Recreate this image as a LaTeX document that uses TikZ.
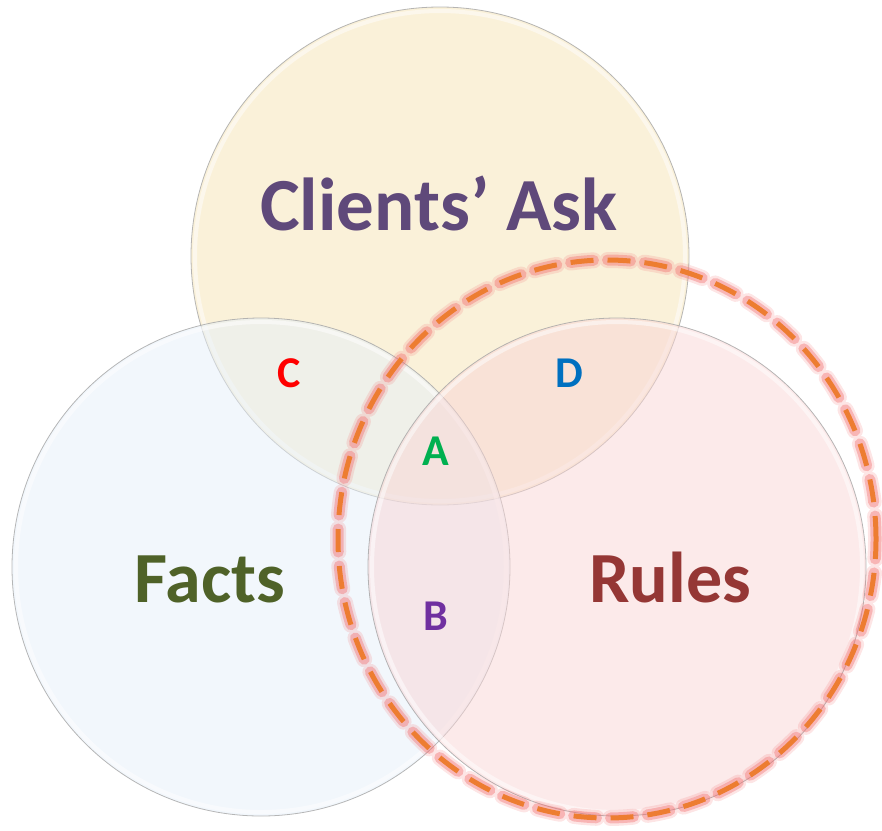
\documentclass[tikz,border=0pt]{standalone}
\usepackage{fontspec}
\setmainfont{Carlito}
\definecolor{topfill}{RGB}{245,227,180}
\definecolor{leftfill}{RGB}{229,239,249}
\definecolor{rightfill}{RGB}{249,213,213}
\definecolor{ringedge}{RGB}{165,165,165}
\definecolor{dashorange}{RGB}{237,125,49}
\definecolor{glowpink}{RGB}{242,110,110}
\definecolor{askpurple}{RGB}{95,73,122}
\definecolor{factsgreen}{RGB}{79,98,40}
\definecolor{rulesred}{RGB}{149,55,53}
\definecolor{labC}{RGB}{255,0,0}
\definecolor{labD}{RGB}{0,112,192}
\definecolor{labA}{RGB}{0,176,80}
\definecolor{labB}{RGB}{112,48,160}
\tikzset{
  setcircle/.style={circle, inner sep=0pt, minimum size=498pt, draw=ringedge, line width=0.8pt, fill opacity=0.5, draw opacity=0.8},
  innerglow/.style={circle, inner sep=0pt, minimum size=490pt, draw=white, line width=4pt, draw opacity=0.5},
  bigtext/.style={font=\bfseries\fontsize{72}{72}\selectfont, anchor=base, inner sep=0pt},
  smalltext/.style={font=\bfseries\fontsize{44}{44}\selectfont, anchor=base, inner sep=0pt},
  ringdash/.style={dash pattern=on 23pt off 14pt},
}
\begin{document}
\begin{tikzpicture}[x=1pt,y=-1pt]
\useasboundingbox (0,0) rectangle (882,830);
% circles
\node[setcircle, fill=topfill] (ask) at (440,256) {};
\node[innerglow] (askglow) at (440,256) {};
\node[setcircle, fill=leftfill] (facts) at (261,567) {};
\node[innerglow] (factsglow) at (261,567) {};
\node[setcircle, fill=rightfill] (rules) at (617,567) {};
\node[innerglow] (rulesglow) at (617,567) {};
% dashed highlight ring (glow + dashes)
\coordinate (ringc) at (607,539);
\draw[glowpink, opacity=0.18, line width=16pt, line cap=round, ringdash] (ringc) ellipse [x radius=269pt, y radius=279pt];
\draw[glowpink, opacity=0.4, line width=11pt, line cap=round, ringdash] (ringc) ellipse [x radius=269pt, y radius=279pt];
\draw[dashorange, line width=5pt, ringdash] (ringc) ellipse [x radius=269pt, y radius=279pt];
% titles
\node[bigtext, text=askpurple, font=\bfseries\fontsize{75}{75}\selectfont] (askt) at (439,230) {Clients’ Ask};
\node[bigtext, text=factsgreen] (factst) at (210,602) {Facts};
\node[bigtext, text=rulesred] (rulest) at (670,602) {Rules};
% region letters
\node[smalltext, text=labC] (lc) at (289,387) {C};
\node[smalltext, text=labD] (ld) at (569,387) {D};
\node[smalltext, text=labA] (la) at (436,465) {A};
\node[smalltext, text=labB] (lb) at (436,630) {B};
\end{tikzpicture}
\end{document}
